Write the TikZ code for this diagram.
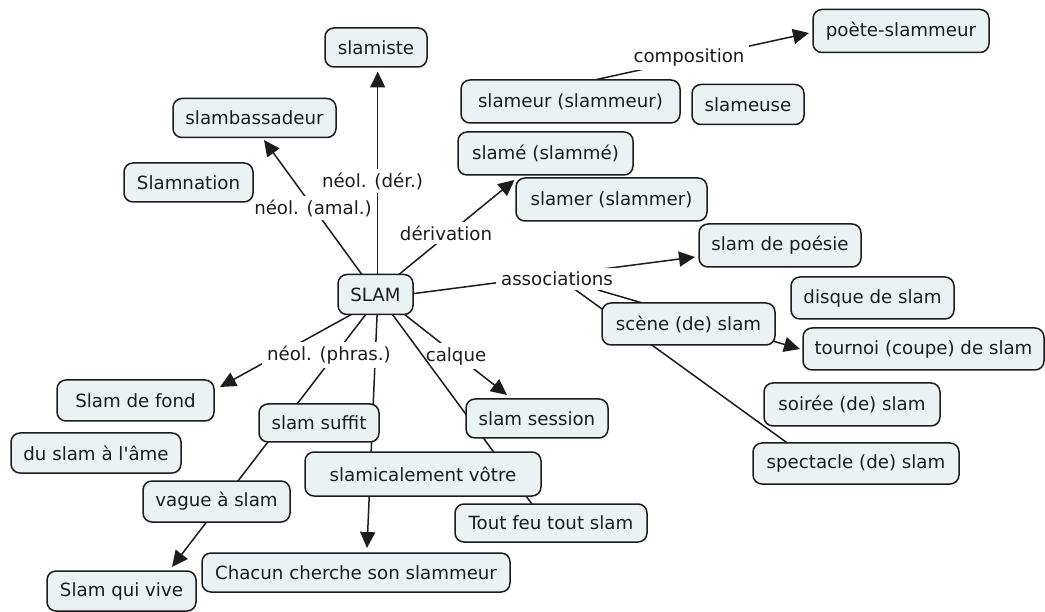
\documentclass[tikz,border=0pt]{standalone}
\usepackage{fontspec}
\setmainfont{DejaVu Sans}
\usetikzlibrary{arrows.meta,calc}
\definecolor{boxfill}{HTML}{EAF2F4}
\definecolor{ink}{HTML}{1C1C1C}
\pgfdeclarelayer{paper}
\pgfdeclarelayer{lines}
\pgfdeclarelayer{labels}
\pgfdeclarelayer{over}
\pgfsetlayers{paper,lines,labels,over,main}
\begin{document}
\begin{tikzpicture}[x=1pt,y=-1pt,
  concept/.style={draw=ink, line width=1.5pt, fill=boxfill, rounded corners=9pt,
    minimum height=41pt, inner xsep=4pt, inner ysep=2pt, text=ink,
    font=\fontsize{18.2}{21}\selectfont},
  lab/.style={fill=white, inner xsep=5pt, inner ysep=4pt, text=ink,
    font=\fontsize{18.2}{21}\selectfont},
  link/.style={draw=ink, line width=1.5pt},
  arr/.style={link, -{Triangle[length=16pt,width=15pt]}}]
\begin{pgfonlayer}{paper}
\fill[white] (0,0) rectangle (1045,612);
\end{pgfonlayer}
\useasboundingbox (0,0) rectangle (1045,612);

% concepts
\node[concept, minimum width=102pt, minimum height=39pt] (slamiste) at (376,47.5) {slamiste};
\node[concept, minimum width=163pt, minimum height=39pt] (ambass) at (254.5,118) {slambassadeur};
\node[concept, minimum width=129pt, minimum height=39pt] (nation) at (188.5,182.5) {Slamnation};
\node[concept, minimum width=75pt, minimum height=40pt] (slam) at (375.5,294.5) {SLAM};
\node[concept, minimum width=176pt, minimum height=43pt] (poete) at (901,31) {poète-slammeur};
\node[concept, minimum width=219pt, minimum height=43pt] (slameur) at (570.5,101.5) {slameur (slammeur)};
\node[concept, minimum width=112pt, minimum height=40pt] (slameuse) at (748,104.5) {slameuse};
\node[concept, minimum width=175pt, minimum height=43pt] (slame) at (545.5,153.5) {slamé (slammé)};
\node[concept, minimum width=191pt, minimum height=43pt] (slamer) at (611.5,199.5) {slamer (slammer)};
\node[concept, minimum width=162pt, minimum height=43pt] (poesie) at (780,245.5) {slam de poésie};
\node[concept, minimum width=163pt, minimum height=42pt] (disque) at (872.5,298) {disque de slam};
\node[concept, minimum width=173pt, minimum height=42pt] (scene) at (688.5,324) {scène (de) slam};
\node[concept, minimum width=241pt, minimum height=42pt] (tournoi) at (923.5,349) {tournoi (coupe) de slam};
\node[concept, minimum width=176pt, minimum height=43pt] (soiree) at (852,404.5) {soirée (de) slam};
\node[concept, minimum width=206pt, minimum height=41pt] (spectacle) at (856,463.5) {spectacle (de) slam};
\node[concept, minimum width=157pt, minimum height=41pt] (fond) at (135.5,400.5) {Slam de fond};
\node[concept, minimum width=170pt, minimum height=40pt] (ame) at (96,453) {du slam à l\textquotesingle âme};
\node[concept, minimum width=120pt, minimum height=38pt] (suffit) at (319,423) {slam suffit};
\node[concept, minimum width=236pt, minimum height=44pt] (votre) at (423,474) {slamicalement vôtre};
\node[concept, minimum width=147pt, minimum height=41pt] (vague) at (216.5,501.5) {vague à slam};
\node[concept, minimum width=308pt, minimum height=39pt] (chacun) at (356,572.5) {Chacun cherche son slammeur};
\node[concept, minimum width=149pt, minimum height=40pt] (vive) at (121.5,591) {Slam qui vive};
\node[concept, minimum width=142pt, minimum height=39pt] (session) at (537,418.5) {slam session};
\node[concept, minimum width=192pt, minimum height=38pt] (toutfeu) at (551,523) {Tout feu tout slam};

% linking phrases
\begin{pgfonlayer}{labels}
\node[lab] (lder) at (372.5,181) {néol. (dér.)};
\node[lab, inner xsep=2pt] (lamal) at (313,208) {néol. (amal.)};
\node[lab] (lderiv) at (446,233) {dérivation};
\node[lab] (lcomp) at (689,57) {composition};
\node[lab] (lassoc) at (557,279) {associations};
\node[lab, inner xsep=1pt] (lcalque) at (456,356) {calque};
\node[lab] (lphras) at (329,355) {néol. (phras.)};
\end{pgfonlayer}

% connectors
\begin{pgfonlayer}{lines}
\draw[arr] ($(slam)+(2.2,0)$) -- ($(slamiste)+(1.7,24)$);
\draw[arr] ($(slam)+(-6,-9.5)$) -- ($(ambass)+(9.5,22)$);
\draw[arr] ($(slam)+(10.5,-9.5)$) -- ($(slame)+(-31,26.5)$);
\draw[arr] ($(slameur)+(9.5,-18.4)$) -- ($(poete)+(-92,2)$);
\draw[arr] ($(slam)+(29.5,0.2)$) -- ($(poesie)+(-85,11.5)$);
\draw[arr] ($(lassoc)+(41,11)$) -- ($(tournoi)+(-123.5,0)$);
\draw[link] ($(lassoc)+(16,9)$) -- ($(spectacle)+(-59,-13.5)$);
\draw[arr] ($(slam)+(-7,10.5)$) -- ($(fond)+(84.5,-13.5)$);
\draw[arr] ($(slam)+(-2.5,10.5)$) -- ($(vive)+(50.5,-24)$);
\draw[arr] ($(slam)+(2,10.5)$) -- ($(chacun)+(11,-24.5)$);
\draw[arr] ($(slam)+(17,10.5)$) -- ($(session)+(-30,-23.5)$);
\end{pgfonlayer}
\begin{pgfonlayer}{over}
\draw[link] ($(slam)+(10,10.5)$) -- ($(toutfeu)+(-11,-8)$);
\end{pgfonlayer}
\end{tikzpicture}
\end{document}
